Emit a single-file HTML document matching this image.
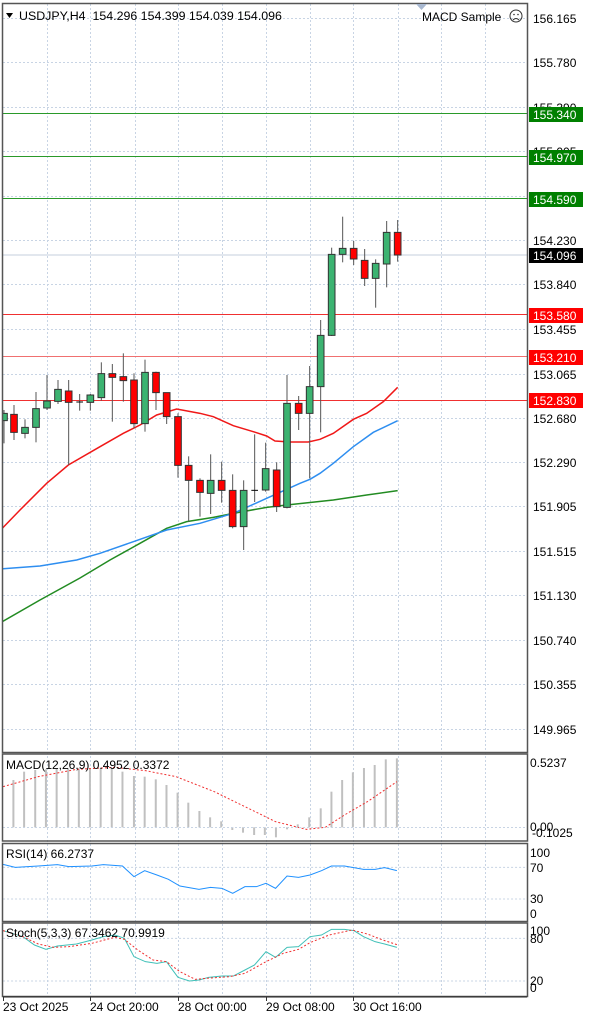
<!DOCTYPE html>
<html><head><meta charset="utf-8"><style>
html,body{margin:0;padding:0;background:#fff;}
svg{display:block;font-family:"Liberation Sans",sans-serif;font-size:12px;}
.ns{vector-effect:non-scaling-stroke;}
</style></head><body>
<svg width="600" height="1015" viewBox="0 0 600 1015" xmlns="http://www.w3.org/2000/svg">
<rect x="0" y="0" width="600" height="1015" fill="#fff"/>
<defs>
<clipPath id="cm"><rect x="3" y="4" width="524" height="748"/></clipPath>
</defs>
<g stroke="#c8d4e4" stroke-dasharray="2,2" stroke-width="1">
<line x1="3" x2="527" y1="18.5" y2="18.5"/><line x1="3" x2="527" y1="62.5" y2="62.5"/><line x1="3" x2="527" y1="107.5" y2="107.5"/><line x1="3" x2="527" y1="151.5" y2="151.5"/><line x1="3" x2="527" y1="196.5" y2="196.5"/><line x1="3" x2="527" y1="240.5" y2="240.5"/><line x1="3" x2="527" y1="284.5" y2="284.5"/><line x1="3" x2="527" y1="329.5" y2="329.5"/><line x1="3" x2="527" y1="374.5" y2="374.5"/><line x1="3" x2="527" y1="418.5" y2="418.5"/><line x1="3" x2="527" y1="462.5" y2="462.5"/><line x1="3" x2="527" y1="506.5" y2="506.5"/><line x1="3" x2="527" y1="551.5" y2="551.5"/><line x1="3" x2="527" y1="595.5" y2="595.5"/><line x1="3" x2="527" y1="640.5" y2="640.5"/><line x1="3" x2="527" y1="684.5" y2="684.5"/><line x1="3" x2="527" y1="729.5" y2="729.5"/>
</g>
<g stroke="#c8d4e4" stroke-dasharray="2,2" stroke-width="1">
<line x1="47.5" x2="47.5" y1="4" y2="997"/><line x1="90.5" x2="90.5" y1="4" y2="997"/><line x1="135.5" x2="135.5" y1="4" y2="997"/><line x1="178.5" x2="178.5" y1="4" y2="997"/><line x1="222.5" x2="222.5" y1="4" y2="997"/><line x1="266.5" x2="266.5" y1="4" y2="997"/><line x1="310.5" x2="310.5" y1="4" y2="997"/><line x1="353.5" x2="353.5" y1="4" y2="997"/><line x1="398.5" x2="398.5" y1="4" y2="997"/><line x1="441.5" x2="441.5" y1="4" y2="997"/><line x1="485.5" x2="485.5" y1="4" y2="997"/>
</g>
<line x1="3" x2="527" y1="255" y2="255" stroke="#d8dfe9" stroke-width="1.5"/>
<g stroke="#2a9a2a" stroke-width="1"><line x1="3" x2="527" y1="113.5" y2="113.5"/><line x1="3" x2="527" y1="156.5" y2="156.5"/><line x1="3" x2="527" y1="198.5" y2="198.5"/></g>
<g stroke="#f03030" stroke-width="1"><line x1="3" x2="527" y1="314.5" y2="314.5"/><line x1="3" x2="527" y1="356.5" y2="356.5" stroke="#f07070"/><line x1="3" x2="527" y1="400.5" y2="400.5"/></g>
<g clip-path="url(#cm)">
<g transform="translate(0,180) scale(0.33333)">
<polyline class="ns" fill="none" stroke="#228b22" stroke-width="1.5" points="0,1329 120,1260 240,1194 330,1140 420,1090 500,1045 560,1025 640,1012 700,1000 800,982 860,975 1000,960 1100,945 1193,932"/>
<polyline class="ns" fill="none" stroke="#2e8ef0" stroke-width="1.5" points="0,1167 120,1158 230,1140 300,1120 400,1085 500,1050 600,1030 700,1000 800,955 900,910 930,898 960,880 1000,850 1060,800 1120,757 1193,722"/>
<polyline class="ns" fill="none" stroke="#f01818" stroke-width="1.5" points="0,1052 60,990 140,910 205,855 300,800 370,760 420,735 470,705 530,687 600,700 640,710 700,737 760,755 800,768 825,783 870,786 925,786 960,778 1000,760 1060,718 1100,700 1150,665 1193,622"/>
<g stroke="#555" stroke-width="1">
<line class="ns" x1="12" x2="12" y1="690" y2="790"/><line class="ns" x1="42" x2="42" y1="675" y2="780"/><line class="ns" x1="75" x2="75" y1="718" y2="775"/><line class="ns" x1="108" x2="108" y1="636" y2="787"/><line class="ns" x1="141" x2="141" y1="585" y2="690"/><line class="ns" x1="174" x2="174" y1="600" y2="672"/><line class="ns" x1="206" x2="206" y1="600" y2="855"/><line class="ns" x1="239" x2="239" y1="642" y2="692"/><line class="ns" x1="271" x2="271" y1="642" y2="692"/><line class="ns" x1="304" x2="304" y1="547" y2="662"/><line class="ns" x1="337" x2="337" y1="552" y2="725"/><line class="ns" x1="370" x2="370" y1="520" y2="665"/><line class="ns" x1="402" x2="402" y1="580" y2="745"/><line class="ns" x1="435" x2="435" y1="539" y2="755"/><line class="ns" x1="468" x2="468" y1="575" y2="690"/><line class="ns" x1="500" x2="500" y1="638" y2="732"/><line class="ns" x1="534" x2="534" y1="700" y2="893"/><line class="ns" x1="566" x2="566" y1="829" y2="1025"/><line class="ns" x1="600" x2="600" y1="895" y2="1010"/><line class="ns" x1="632" x2="632" y1="823" y2="1002"/><line class="ns" x1="665" x2="665" y1="845" y2="968"/><line class="ns" x1="698" x2="698" y1="883" y2="1045"/><line class="ns" x1="731" x2="731" y1="901" y2="1110"/><line class="ns" x1="764" x2="764" y1="763" y2="966"/><line class="ns" x1="797" x2="797" y1="788" y2="935"/><line class="ns" x1="830" x2="830" y1="847" y2="996"/><line class="ns" x1="861" x2="861" y1="585" y2="985"/><line class="ns" x1="896" x2="896" y1="648" y2="750"/><line class="ns" x1="929" x2="929" y1="558" y2="895"/><line class="ns" x1="962" x2="962" y1="420" y2="757"/><line class="ns" x1="995" x2="995" y1="203" y2="468"/><line class="ns" x1="1028" x2="1028" y1="110" y2="247"/><line class="ns" x1="1061" x2="1061" y1="183" y2="255"/><line class="ns" x1="1094" x2="1094" y1="207" y2="318"/><line class="ns" x1="1127" x2="1127" y1="238" y2="383"/><line class="ns" x1="1160" x2="1160" y1="123" y2="322"/><line class="ns" x1="1193" x2="1193" y1="120" y2="245"/>
</g>
<g stroke="#333" stroke-width="1">
<rect class="ns" fill="#3cb371" x="2" y="700" width="20" height="22"/>
<rect class="ns" fill="#f00" x="32" y="703" width="20" height="54"/>
<rect class="ns" fill="#3cb371" x="65" y="742" width="20" height="18"/>
<rect class="ns" fill="#3cb371" x="98" y="686" width="20" height="56"/>
<rect class="ns" fill="#3cb371" x="131" y="663" width="20" height="21"/>
<rect class="ns" fill="#3cb371" x="164" y="628" width="20" height="36"/>
<rect class="ns" fill="#f00" x="196" y="633" width="20" height="34"/>
<line class="ns" x1="229" x2="249" y1="666" y2="666" stroke="#000"/>
<rect class="ns" fill="#3cb371" x="261" y="645" width="20" height="22"/>
<rect class="ns" fill="#3cb371" x="294" y="581" width="20" height="72"/>
<rect class="ns" fill="#f00" x="327" y="581" width="20" height="11"/>
<rect class="ns" fill="#f00" x="360" y="590" width="20" height="12"/>
<rect class="ns" fill="#f00" x="392" y="600" width="20" height="131"/>
<rect class="ns" fill="#3cb371" x="425" y="577" width="20" height="154"/>
<rect class="ns" fill="#f00" x="458" y="577" width="20" height="61"/>
<rect class="ns" fill="#f00" x="490" y="638" width="20" height="72"/>
<rect class="ns" fill="#f00" x="524" y="710" width="20" height="146"/>
<rect class="ns" fill="#f00" x="556" y="856" width="20" height="45"/>
<rect class="ns" fill="#f00" x="590" y="901" width="20" height="36"/>
<rect class="ns" fill="#3cb371" x="622" y="901" width="20" height="39"/>
<rect class="ns" fill="#f00" x="655" y="901" width="20" height="30"/>
<rect class="ns" fill="#f00" x="688" y="931" width="20" height="109"/>
<rect class="ns" fill="#3cb371" x="721" y="931" width="20" height="109"/>
<line class="ns" x1="754" x2="774" y1="931" y2="931" stroke="#000"/>
<rect class="ns" fill="#3cb371" x="787" y="866" width="20" height="64"/>
<rect class="ns" fill="#f00" x="820" y="870" width="20" height="110"/>
<rect class="ns" fill="#3cb371" x="851" y="670" width="20" height="312"/>
<rect class="ns" fill="#f00" x="886" y="670" width="20" height="30"/>
<rect class="ns" fill="#3cb371" x="919" y="620" width="20" height="80"/>
<rect class="ns" fill="#3cb371" x="952" y="466" width="20" height="154"/>
<rect class="ns" fill="#3cb371" x="985" y="223" width="20" height="243"/>
<rect class="ns" fill="#3cb371" x="1018" y="205" width="20" height="18"/>
<rect class="ns" fill="#f00" x="1051" y="205" width="20" height="32"/>
<rect class="ns" fill="#f00" x="1084" y="241" width="20" height="54"/>
<rect class="ns" fill="#3cb371" x="1117" y="250" width="20" height="45"/>
<rect class="ns" fill="#3cb371" x="1150" y="157" width="20" height="95"/>
<rect class="ns" fill="#f00" x="1183" y="157" width="20" height="68"/>
</g>
</g>
</g>
<g transform="translate(0,740) scale(0.38272,0.33333)">
<g stroke="#c0c0c0" stroke-width="2">
<line class="ns" x1="35" x2="35" y1="262" y2="120"/><line class="ns" x1="63" x2="63" y1="262" y2="95"/><line class="ns" x1="92" x2="92" y1="262" y2="90"/><line class="ns" x1="120" x2="120" y1="262" y2="88"/><line class="ns" x1="148" x2="148" y1="262" y2="85"/><line class="ns" x1="178" x2="178" y1="262" y2="85"/><line class="ns" x1="206" x2="206" y1="262" y2="85"/><line class="ns" x1="235" x2="235" y1="262" y2="85"/><line class="ns" x1="263" x2="263" y1="262" y2="85"/><line class="ns" x1="292" x2="292" y1="262" y2="87"/><line class="ns" x1="320" x2="320" y1="262" y2="95"/><line class="ns" x1="350" x2="350" y1="262" y2="108"/><line class="ns" x1="378" x2="378" y1="262" y2="110"/><line class="ns" x1="407" x2="407" y1="262" y2="118"/><line class="ns" x1="435" x2="435" y1="262" y2="135"/><line class="ns" x1="464" x2="464" y1="262" y2="158"/><line class="ns" x1="492" x2="492" y1="262" y2="188"/><line class="ns" x1="521" x2="521" y1="262" y2="213"/><line class="ns" x1="549" x2="549" y1="262" y2="232"/><line class="ns" x1="578" x2="578" y1="262" y2="244"/><line class="ns" x1="607" x2="607" y1="262" y2="270"/><line class="ns" x1="635" x2="635" y1="262" y2="278"/><line class="ns" x1="664" x2="664" y1="262" y2="285"/><line class="ns" x1="692" x2="692" y1="262" y2="285"/><line class="ns" x1="721" x2="721" y1="262" y2="292"/><line class="ns" x1="750" x2="750" y1="262" y2="268"/><line class="ns" x1="778" x2="778" y1="262" y2="253"/><line class="ns" x1="808" x2="808" y1="262" y2="232"/><line class="ns" x1="838" x2="838" y1="262" y2="205"/><line class="ns" x1="866" x2="866" y1="262" y2="155"/><line class="ns" x1="894" x2="894" y1="262" y2="120"/><line class="ns" x1="922" x2="922" y1="262" y2="97"/><line class="ns" x1="951" x2="951" y1="262" y2="84"/><line class="ns" x1="979" x2="979" y1="262" y2="75"/><line class="ns" x1="1008" x2="1008" y1="262" y2="58"/><line class="ns" x1="1037" x2="1037" y1="262" y2="55"/>
</g>
<polyline class="ns" fill="none" stroke="#f03030" stroke-dasharray="2,2" stroke-width="1" points="8,140 100,110 200,88 300,82 380,92 460,110 560,155 640,200 720,245 800,268 850,262 900,225 960,185 1037,125"/>
<g stroke="#c8d4e4" stroke-dasharray="2,2"><line class="ns" x1="8" x2="1378" y1="382" y2="382"/><line class="ns" x1="8" x2="1378" y1="477" y2="477"/><line class="ns" x1="8" x2="1378" y1="595" y2="595"/><line class="ns" x1="8" x2="1378" y1="723" y2="723"/></g>
<polyline class="ns" fill="none" stroke="#1e90ff" stroke-width="1" points="8,373 40,382 100,378 150,374 180,380 240,378 270,374 320,378 350,410 378,392 410,405 440,418 470,438 520,448 550,442 580,445 608,460 640,440 670,440 695,430 720,445 750,408 780,412 810,405 840,392 866,378 900,378 950,388 980,388 1005,383 1037,392"/>
<polyline class="ns" fill="none" stroke="#40c0b8" stroke-width="1" points="8,572 60,590 90,615 120,628 150,618 200,612 240,600 270,590 300,585 325,595 350,650 380,665 410,670 435,665 465,712 495,723 520,720 545,712 580,708 610,708 640,690 665,675 695,635 720,652 750,622 780,620 810,590 840,585 866,568 900,568 925,572 950,590 980,605 1005,612 1037,622"/>
<polyline class="ns" fill="none" stroke="#f03030" stroke-dasharray="2,2" stroke-width="1" points="8,572 60,590 100,612 140,622 180,620 240,610 300,592 325,598 360,630 400,660 435,665 470,695 510,718 550,714 600,710 640,700 695,665 740,640 780,628 810,608 860,585 920,570 960,582 1000,600 1037,614"/>
</g>
<line x1="3" x2="527" y1="827.5" y2="827.5" stroke="#c8d4e4" stroke-dasharray="2,2"/>
<g fill="none" stroke="#555" stroke-width="1.5">
<rect x="2.5" y="3.5" width="525" height="749"/>
<rect x="2.5" y="754" width="525" height="87"/>
<rect x="2.5" y="843.5" width="525" height="78"/>
<rect x="2.5" y="923" width="525" height="73.5"/>
</g>
<line x1="3" x2="527" y1="997" y2="997" stroke="#222"/>
<path d="M6,13 L13,13 L9.5,18 Z" fill="#000"/>
<text x="19" y="20" fill="#000" xml:space="preserve" style="white-space:pre;font-size:12.4px">USDJPY,H4  154.296 154.399 154.039 154.096</text>
<path d="M416,4 L427,4 L421.5,10 Z" fill="#a8b8d0"/>
<text x="422" y="21" fill="#000">MACD Sample</text>
<circle cx="516" cy="16" r="6" fill="none" stroke="#333"/>
<circle cx="514" cy="14.5" r="0.8" fill="#333"/><circle cx="518" cy="14.5" r="0.8" fill="#333"/>
<path d="M513,20 Q516,17 519,20" fill="none" stroke="#333"/>
<g fill="#000">
<text x="533" y="23">156.165</text><text x="533" y="67">155.780</text><text x="533" y="112">155.390</text><text x="533" y="156">155.005</text><text x="533" y="201">154.615</text><text x="533" y="245">154.230</text><text x="533" y="289">153.840</text><text x="533" y="334">153.455</text><text x="533" y="379">153.065</text><text x="533" y="423">152.680</text><text x="533" y="467">152.290</text><text x="533" y="511">151.905</text><text x="533" y="556">151.515</text><text x="533" y="600">151.130</text><text x="533" y="645">150.740</text><text x="533" y="689">150.355</text><text x="533" y="734">149.965</text>
</g>
<g>
<rect x="529" y="107" width="54" height="15" fill="#008000"/><text x="533" y="119" fill="#fff">155.340</text>
<rect x="529" y="150" width="54" height="15" fill="#008000"/><text x="533" y="162" fill="#fff">154.970</text>
<rect x="529" y="192" width="54" height="15" fill="#008000"/><text x="533" y="204" fill="#fff">154.590</text>
<rect x="529" y="248" width="54" height="15" fill="#000"/><text x="533" y="260" fill="#fff">154.096</text>
<rect x="529" y="308" width="54" height="15" fill="#f00"/><text x="533" y="320" fill="#fff">153.580</text>
<rect x="529" y="350" width="54" height="15" fill="#f00"/><text x="533" y="362" fill="#fff">153.210</text>
<rect x="529" y="393" width="54" height="15" fill="#f00"/><text x="533" y="405" fill="#fff">152.830</text>
</g>
<g fill="#000">
<text x="6" y="769">MACD(12,26,9) 0.4952 0.3372</text>
<text x="530" y="767">0.5237</text>
<text x="530" y="831">0.00</text><text x="532" y="837">-0.1025</text>
<text x="6" y="858">RSI(14) 66.2737</text>
<text x="530" y="857">100</text><text x="530" y="872">70</text><text x="530" y="903">30</text><text x="530" y="918">0</text>
<text x="6" y="937">Stoch(5,3,3) 67.3462 70.9919</text>
<text x="530" y="935">100</text><text x="530" y="943">80</text><text x="530" y="985">20</text><text x="530" y="992">0</text>
<text x="3" y="1011">23 Oct 2025</text>
<text x="90" y="1011">24 Oct 20:00</text>
<text x="178" y="1011">28 Oct 00:00</text>
<text x="266" y="1011">29 Oct 08:00</text>
<text x="353" y="1011">30 Oct 16:00</text>
</g>
<g stroke="#333"><line x1="3.5" x2="3.5" y1="997" y2="1001"/><line x1="90.5" x2="90.5" y1="997" y2="1001"/><line x1="178.5" x2="178.5" y1="997" y2="1001"/><line x1="266.5" x2="266.5" y1="997" y2="1001"/><line x1="353.5" x2="353.5" y1="997" y2="1001"/></g>
</svg>
</body></html>
